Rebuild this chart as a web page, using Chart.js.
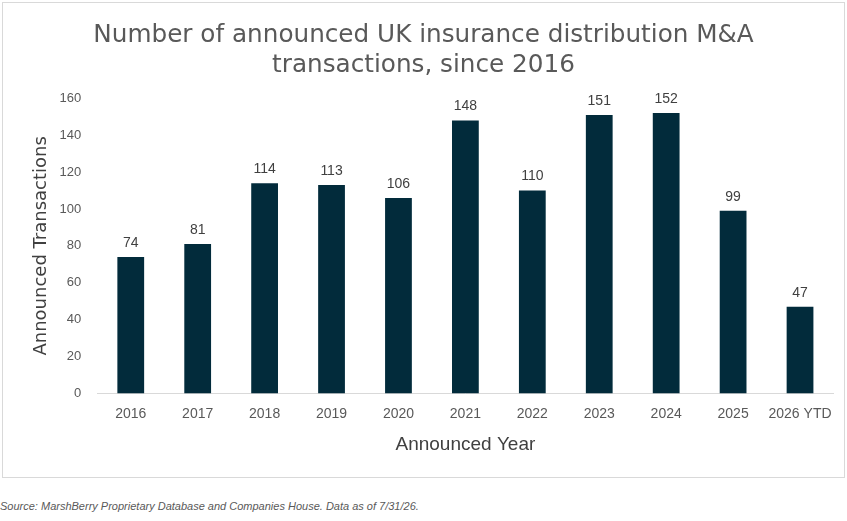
<!DOCTYPE html>
<html>
<head>
<meta charset="utf-8">
<script src="https://cdn.jsdelivr.net/npm/chart.js@4"></script>
<style>
body { margin: 0; background: #fff; }
#box { position: absolute; left: 2px; top: 2px; width: 841px; height: 474px; border: 1px solid #d9d9d9; }
#src { position: absolute; left: 0; top: 500px; font-family: "Liberation Sans Narrow", "Liberation Sans", sans-serif; font-style: italic; font-size: 11px; color: #595959; }
</style>
</head>
<body>
<div id="box"><canvas id="chart" width="841" height="474"></canvas></div>
<div id="src">Source: MarshBerry Proprietary Database and Companies House. Data as of 7/31/26.</div>
<script>
var years = ["2016", "2017", "2018", "2019", "2020", "2021", "2022", "2023", "2024", "2025", "2026 YTD"];
var deals = [74, 81, 114, 113, 106, 148, 110, 151, 152, 99, 47];
var yTicks = [0, 20, 40, 60, 80, 100, 120, 140, 160];

// value labels above each bar
var barLabels = {
    id: "barLabels",
    afterDatasetsDraw: function (chart) {
        var ctx = chart.ctx;
        var meta = chart.getDatasetMeta(0);
        ctx.save();
        ctx.font = "14px 'Liberation Sans', sans-serif";
        ctx.fillStyle = "#404040";
        ctx.textAlign = "center";
        ctx.textBaseline = "bottom";
        for (let i = 0; i < meta.data.length; i++) {
            let bar = meta.data[i];
            ctx.fillText(deals[i], bar.x, bar.y - 7);
        }
        ctx.restore();
    }
};

var ctx = document.getElementById("chart").getContext("2d");
var myChart = new Chart(ctx, {
    type: "bar",
    data: {
        labels: years,
        datasets: [{
            data: deals,
            backgroundColor: "#022b3b",
            barPercentage: 0.4,
            categoryPercentage: 1.0
        }]
    },
    options: {
        responsive: false,
        animation: false,
        layout: { padding: { left: 10, right: 10, top: 6, bottom: 17 } },
        plugins: {
            legend: { display: false },
            tooltip: { enabled: false },
            title: {
                display: true,
                text: ["Number of announced UK insurance distribution M&A", "transactions, since 2016"],
                color: "#595959",
                font: { family: "'DejaVu Sans', Verdana, sans-serif", size: 24.7, weight: "normal", lineHeight: 1.2 },
                padding: { top: 12, bottom: 18 }
            }
        },
        scales: {
            x: {
                grid: { display: false, drawTicks: false },
                border: { display: true, color: "#d9d9d9", width: 1 },
                ticks: {
                    color: "#595959",
                    padding: 12,
                    maxRotation: 0,
                    font: { family: "'Liberation Sans Narrow', 'Liberation Sans', sans-serif", size: 14 }
                },
                title: {
                    display: true,
                    text: "Announced Year",
                    color: "#404040",
                    font: { family: "'Liberation Sans Narrow', 'Liberation Sans', sans-serif", size: 19 },
                    padding: { top: -1 }
                }
            },
            y: {
                min: 0,
                max: 160,
                afterBuildTicks: function (axis) {
                    axis.ticks = yTicks.map(function (v) { return { value: v }; });
                },
                grid: { display: false, drawTicks: false },
                border: { display: false },
                ticks: {
                    color: "#595959",
                    padding: 16,
                    font: { family: "'Liberation Sans', sans-serif", size: 13 }
                },
                title: {
                    display: true,
                    text: "Announced Transactions",
                    color: "#404040",
                    font: { family: "'DejaVu Sans', Verdana, sans-serif", size: 18 },
                    padding: { top: 18, bottom: -9 }
                }
            }
        }
    },
    plugins: [barLabels]
});
</script>
</body>
</html>
